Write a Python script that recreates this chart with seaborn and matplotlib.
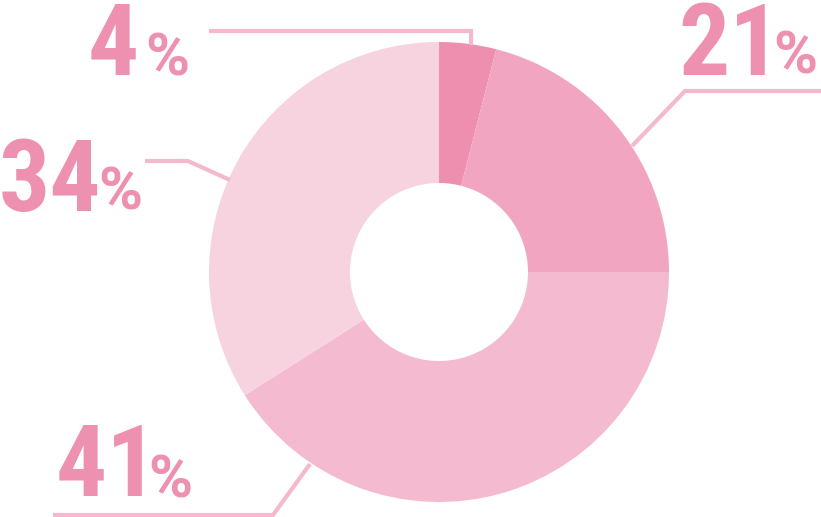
import matplotlib
matplotlib.use("Agg")
import matplotlib.pyplot as plt
import seaborn as sns

# Data
categories = ["A", "B", "C", "D"]
values = [4, 21, 41, 34]
value_labels = ["4", "21", "41", "34"]
slice_colors = ["#EE8FB0", "#F2A5C1", "#F4BAD0", "#F7D3E0"]

sns.set_theme(style="white")
plt.rcParams["font.family"] = ["Roboto Condensed", "Barlow Condensed", "Roboto", "DejaVu Sans"]

W, H = 821, 517
fig = plt.figure(figsize=(W / 100, H / 100), dpi=100)
ax = fig.add_axes([0, 0, 1, 1])

def py(y):
    return H - y

cx, cy = 439, py(272)
ax.pie(values, colors=slice_colors, startangle=90, counterclock=False,
       radius=230, center=(cx, cy), frame=True,
       wedgeprops=dict(width=141, linewidth=0))
ax.set_xlim(0, W)
ax.set_ylim(0, H)
ax.set_aspect("equal")
ax.axis("off")

text_color = "#EE90B0"
line_color = "#F4B9CE"

# leader lines (pixel coordinates)
leaders = [
    [(209, 31), (471, 31), (471, 45)],
    [(821, 91), (685, 91), (632, 146)],
    [(310, 464), (273, 515), (53, 515)],
    [(145, 161), (188, 161), (230, 180)],
]
for pts in leaders:
    ax.plot([p[0] for p in pts], [py(p[1]) for p in pts], color=line_color,
            lw=3, solid_capstyle="butt", solid_joinstyle="miter")

# label placement: (num x, num baseline, pct x, pct baseline)
label_pos = [
    (88, 75, 145, 75),
    (679, 75, 773, 73),
    (56, 496, 148, 497),
    (-1, 211, 98, 210),
]
for lab, (nx, nb, px_, pb) in zip(value_labels, label_pos):
    ax.text(nx, py(nb), lab, fontsize=73, fontweight="bold", color=text_color,
            ha="left", va="baseline")
    ax.text(px_, py(pb), "%", fontsize=43, fontweight="bold", color=text_color,
            family=["Roboto", "DejaVu Sans"], ha="left", va="baseline")

fig.savefig("out.png", dpi=100)
